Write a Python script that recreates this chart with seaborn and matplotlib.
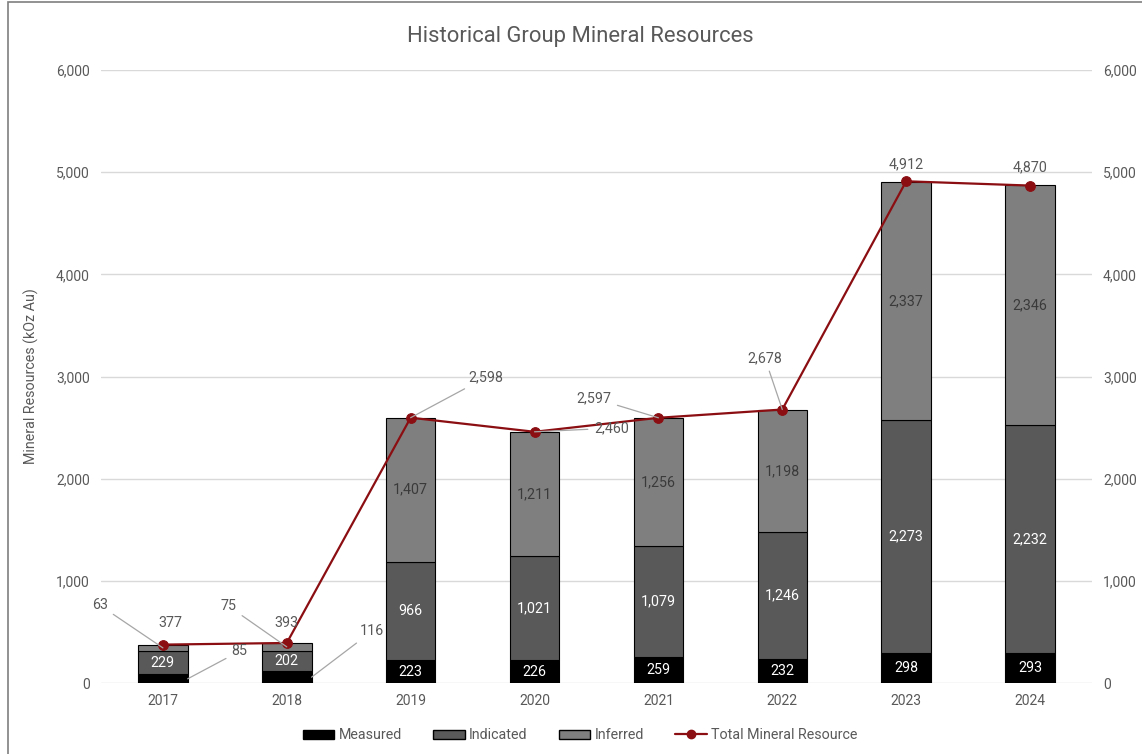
import matplotlib
matplotlib.use("Agg")
import matplotlib.pyplot as plt
import seaborn as sns
import numpy as np
import pandas as pd
from matplotlib.lines import Line2D
from matplotlib.patches import Patch, Rectangle

years = ["2017", "2018", "2019", "2020", "2021", "2022", "2023", "2024"]
measured = [85, 116, 223, 226, 259, 232, 298, 293]
indicated = [229, 202, 966, 1021, 1079, 1246, 2273, 2232]
inferred = [63, 75, 1407, 1211, 1256, 1198, 2337, 2346]
total = [377, 393, 2598, 2460, 2597, 2678, 4912, 4870]
y_ticks = [0, 1000, 2000, 3000, 4000, 5000, 6000]

sns.set_theme(style="white")
plt.rcParams["font.family"] = ["Roboto", "DejaVu Sans"]

TXT = "#595959"
C_MEAS, C_IND, C_INF = "#000000", "#595959", "#7f7f7f"
C_LINE = "#8b0e12"

fig = plt.figure(figsize=(11.42, 7.54), dpi=100)
ax = fig.add_axes([0.0884, 0.094, 0.8678, 0.813])

df = pd.DataFrame({"year": years, "m": measured, "i": indicated, "f": inferred})
bot_i = np.array(measured)
bot_f = bot_i + np.array(indicated)

kw = dict(width=0.4, edgecolor="black", linewidth=0.8, ax=ax, saturation=1)
sns.barplot(data=df, x="year", y="m", color=C_MEAS, **kw)
sns.barplot(data=df, x="year", y="i", color=C_IND, bottom=bot_i, **kw)
sns.barplot(data=df, x="year", y="f", color=C_INF, bottom=bot_f, **kw)

sns.lineplot(x=np.arange(len(years)), y=total, color=C_LINE, linewidth=1.6,
             marker="o", markersize=7, markeredgecolor=C_LINE, ax=ax, zorder=5)

ax.set_xlim(-0.5, len(years) - 0.5)
ax.set_ylim(0, 6000)
ax.set_yticks(y_ticks)
ax.set_yticklabels([f"{v:,}" for v in y_ticks])
ax.grid(axis="y", color="#d9d9d9", linewidth=1)
ax.set_axisbelow(True)
for s in ax.spines.values():
    s.set_visible(False)
ax.tick_params(axis="both", colors=TXT, labelsize=10, length=0, pad=8)
ax.set_xlabel("")
ax.set_ylabel("Mineral Resources (kOz Au)", color=TXT, fontsize=10.3, labelpad=12)

ax2 = ax.twinx()
ax2.set_ylim(0, 6000)
ax2.set_yticks(y_ticks)
ax2.set_yticklabels([f"{v:,}" for v in y_ticks])
for s in ax2.spines.values():
    s.set_visible(False)
ax2.tick_params(axis="y", colors=TXT, labelsize=10, length=0, pad=8)

# inside labels
for k in range(len(years)):
    if k >= 2:
        ax.text(k, measured[k] / 2, f"{measured[k]:,}", ha="center", va="center",
                color="white", fontsize=10.3, zorder=6)
        ax.text(k, bot_f[k] + inferred[k] / 2, f"{inferred[k]:,}", ha="center",
                va="center", color="#3a3a3a", fontsize=10.3, zorder=6)
    ax.text(k, bot_i[k] + indicated[k] / 2, f"{indicated[k]:,}", ha="center",
            va="center", color="white", fontsize=10.3, zorder=6)

lead = dict(arrowstyle="-", color="#a6a6a6", linewidth=0.9, shrinkA=2, shrinkB=0)

def callout(txt, xy, xytext, ha="center"):
    ax.annotate(txt, xy=xy, xytext=xytext, ha=ha, va="center", color=TXT,
                fontsize=10.3, arrowprops=lead, zorder=6)

# small-bar callouts
callout("63", (0, 345), (-0.51, 763))
callout("85", (0.2, 42), (0.62, 313))
callout("75", (1.0, 355), (0.53, 753))
callout("116", (1.2, 58), (1.69, 509))

# total labels
callout(f"{total[2]:,}", (2, total[2]), (2.61, 2994))
callout(f"{total[3]:,}", (3, total[3]), (3.62, 2495))
callout(f"{total[4]:,}", (4, total[4]), (3.48, 2789))
callout(f"{total[5]:,}", (5, total[5]), (4.86, 3180))
ax.text(0.06, 587, f"{total[0]:,}", ha="center", va="center", color=TXT, fontsize=10.3, zorder=6)
ax.text(1.0, 587, f"{total[1]:,}", ha="center", va="center", color=TXT, fontsize=10.3, zorder=6)
ax.text(6, total[6] + 170, f"{total[6]:,}", ha="center", va="center", color=TXT, fontsize=10.3, zorder=6)
ax.text(7, total[7] + 180, f"{total[7]:,}", ha="center", va="center", color=TXT, fontsize=10.3, zorder=6)

fig.text(0.508, 0.952, "Historical Group Mineral Resources", ha="center", va="center",
         color=TXT, fontsize=15.8)

handles = [
    Patch(facecolor=C_MEAS, edgecolor="black", label="Measured"),
    Patch(facecolor=C_IND, edgecolor="black", label="Indicated"),
    Patch(facecolor=C_INF, edgecolor="black", label="Inferred"),
    Line2D([0], [0], color=C_LINE, marker="o", markersize=6, linewidth=1.6,
           label="Total Mineral Resource"),
]
leg = fig.legend(handles=handles, loc="center", bbox_to_anchor=(0.508, 0.025), ncol=4,
                 frameon=False, fontsize=10.3, handlelength=2.2, handleheight=0.6,
                 columnspacing=2.2, handletextpad=0.3)
for t in leg.get_texts():
    t.set_color(TXT)

fig.patches.append(Rectangle((8 / 1142, -0.01), 1.05, 1 - 2 / 754 + 0.01,
                             transform=fig.transFigure, fill=False,
                             edgecolor="#7f7f7f", linewidth=1.2))

fig.savefig("out.png", dpi=100)
